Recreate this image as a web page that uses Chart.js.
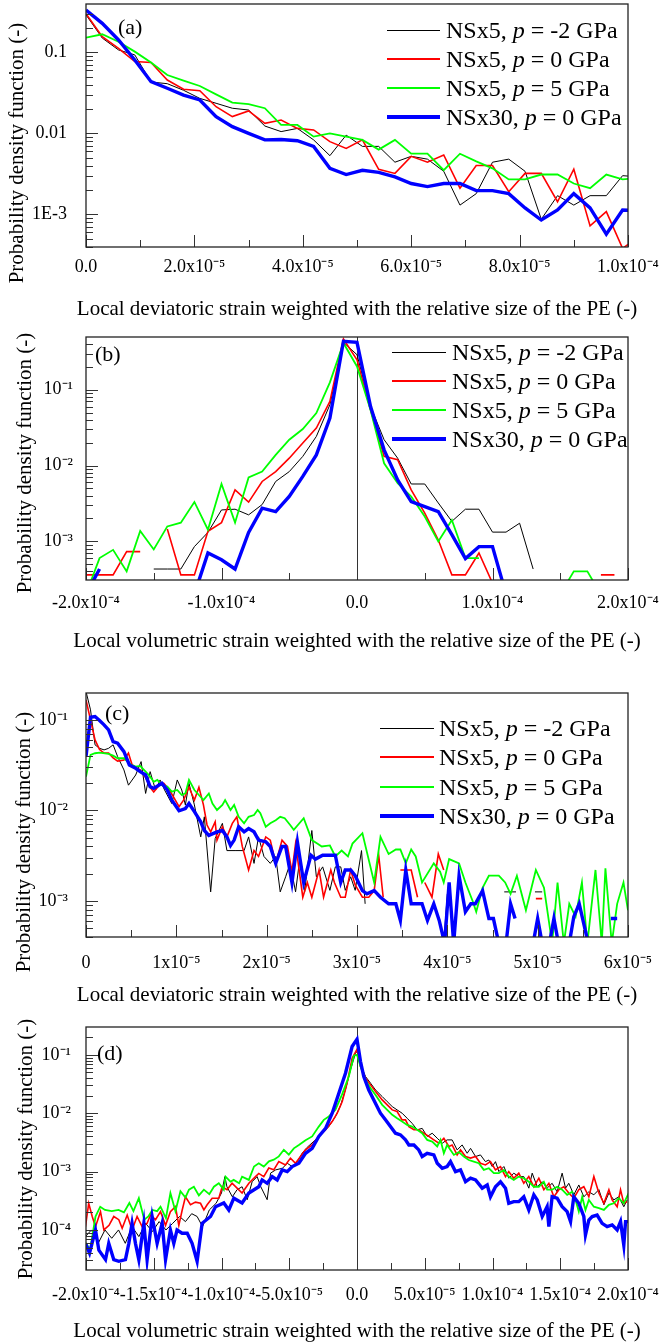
<!DOCTYPE html>
<html>
<head>
<meta charset="utf-8">
<script src="https://cdn.jsdelivr.net/npm/chart.js@4/dist/chart.umd.min.js"></script>
<style>
  body { margin: 0; background: #fff; width: 661px; height: 1344px; position: relative; overflow: hidden;
         font-family: "Liberation Serif", "Times New Roman", serif; color: #000; }
  canvas { position: absolute; left: 0; }
  .ytitle { position: absolute; font-size: 21px; line-height: 1; white-space: nowrap; transform: translate(-50%, -50%) rotate(-90deg); }
  .xtitle { position: absolute; font-size: 21px; line-height: 1; white-space: nowrap; transform: translate(-50%, -50%); }
  .tag { position: absolute; font-size: 22px; line-height: 1; }
  .row { position: absolute; height: 30px; display: flex; align-items: center; font-size: 24px; white-space: nowrap; }
  .swatch { display: inline-block; }
</style>
</head>
<body>
<canvas id="chart-a" width="661" height="330" style="top:0px"></canvas>
<canvas id="chart-b" width="661" height="330" style="top:330px"></canvas>
<canvas id="chart-c" width="661" height="340" style="top:660px"></canvas>
<canvas id="chart-d" width="661" height="344" style="top:1000px"></canvas>

<div class="ytitle" style="left:16px;top:153px">Probability density function (-)</div>
<div class="ytitle" style="left:24px;top:463px">Probability density function (-)</div>
<div class="ytitle" style="left:23px;top:842px">Probability density function (-)</div>
<div class="ytitle" style="left:25px;top:1149px">Probability density function (-)</div>

<div class="xtitle" style="left:357px;top:308px">Local deviatoric strain weighted with the relative size of the PE (-)</div>
<div class="xtitle" style="left:357px;top:640px">Local volumetric strain weighted with the relative size of the PE (-)</div>
<div class="xtitle" style="left:357px;top:994px">Local deviatoric strain weighted with the relative size of the PE (-)</div>
<div class="xtitle" style="left:357px;top:1330px">Local volumetric strain weighted with the relative size of the PE (-)</div>

<div class="tag" style="left:118px;top:16px">(a)</div>
<div class="tag" style="left:95px;top:343px">(b)</div>
<div class="tag" style="left:105px;top:702px">(c)</div>
<div class="tag" style="left:97px;top:1042px">(d)</div>

<div id="legends"></div>

<script>
// ─── Series meta ───
const runs = ['NSx5', 'NSx5', 'NSx5', 'NSx30'];
const pressures = ['-2', '0', '5', '0'];

// ─── Panel (a): deviatoric strain, x in units of 1e-6 ───
const aStrain = [0, 3, 6, 9, 12, 15, 18, 21, 24, 27, 30, 33, 36, 39, 42, 45, 48, 51, 54, 57, 60, 63, 66, 69, 72, 75, 78, 81, 84, 87, 90, 93, 96, 99, 102];
const aBlack = [0.29, 0.15, 0.107, 0.093, 0.043, 0.041, 0.034, 0.027, 0.0235, 0.0204, 0.0194, 0.0123, 0.0105, 0.0115, 0.0083, 0.0053, 0.0095, 0.0069, 0.0069, 0.0044, 0.0052, 0.0048, 0.0034, 0.0013, 0.0018, 0.0044, 0.0048, 0.0034, 0.00087, 0.0017, 0.0013, 0.0017, 0.0017, 0.003, 0.0029];
const aRed = [0.30, 0.156, 0.112, 0.077, 0.075, 0.0455, 0.035, 0.0336, 0.0213, 0.0161, 0.0189, 0.0133, 0.0146, 0.0115, 0.011, 0.0079, 0.0065, 0.0083, 0.0036, 0.0032, 0.0052, 0.0044, 0.0054, 0.0021, 0.004, 0.004, 0.0019, 0.0032, 0.0032, 0.00143, 0.0036, 0.00072, 0.00108, 0.00038, 0.00053];
const aGreen = [0.152, 0.167, 0.135, 0.102, 0.075, 0.0525, 0.0447, 0.0384, 0.0303, 0.0239, 0.023, 0.0204, 0.0127, 0.0127, 0.0091, 0.01, 0.0091, 0.0083, 0.0063, 0.0083, 0.0056, 0.0056, 0.0035, 0.0056, 0.0045, 0.0037, 0.0027, 0.0027, 0.0031, 0.0031, 0.0024, 0.0021, 0.0031, 0.0027, 0.0028];
const aBlue = [0.333, 0.228, 0.142, 0.0804, 0.0434, 0.036, 0.0297, 0.0258, 0.0161, 0.0121, 0.01, 0.0083, 0.0084, 0.0081, 0.0069, 0.0037, 0.0031, 0.0035, 0.0033, 0.0029, 0.0024, 0.0022, 0.0024, 0.0024, 0.00196, 0.00196, 0.0018, 0.0012, 0.00085, 0.00113, 0.0018, 0.0012, 0.00057, 0.00113, 0.00111];
const aXTicks = [0, 20, 40, 60, 80, 100];
const aXLabels = ['0.0', '2.0x10⁻⁵', '4.0x10⁻⁵', '6.0x10⁻⁵', '8.0x10⁻⁵', '1.0x10⁻⁴'];
const aYTicks = [1e-3, 1e-2, 1e-1];
const aYLabels = ['1E-3', '0.01', '0.1'];

// ─── Panel (b): volumetric strain, x in units of 1e-6 ───
const bStrain = [-200, -190, -180, -170, -160, -150, -140, -130, -120, -110, -100, -90, -80, -70, -60, -50, -40, -30, -20, -10, 0, 10, 20, 30, 40, 50, 60, 70, 80, 90, 100, 110, 120, 130, 140, 150, 160, 170, 180, 190, 200];
const bBlack = [null, null, null, null, null, 4.3e-4, 4.3e-4, 4.3e-4, 8.5e-4, 1.31e-3, 2.59e-3, 2.65e-3, 2.23e-3, 3.05e-3, 6.16e-3, 8.3e-3, 0.0132, 0.0242, 0.0634, 0.423, 0.29, 0.06, 0.0219, 0.0125, 5.7e-3, 5.7e-3, 3.2e-3, 1.83e-3, 2.65e-3, 2.65e-3, 1.32e-3, 1.32e-3, 1.73e-3, 4.3e-4, null, null, null, null, null, null, null];
const bRed = [3.6e-4, 3.6e-4, 3.6e-4, 7.3e-4, 7.3e-4, null, 1.45e-3, 3.6e-4, 3.6e-4, 1.35e-3, 1.76e-3, 4.76e-3, 3.29e-3, 6.16e-3, 8.3e-3, 0.0125, 0.0198, 0.0312, 0.07, 0.468, 0.249, 0.0544, 0.0132, 0.0119, 4.76e-3, 2.35e-3, 1.04e-3, 3.6e-4, 3.6e-4, 7e-4, 2.8e-4, null, null, null, null, null, null, null, 3.6e-4, 3.6e-4, null];
const bGreen = [2e-4, 6e-4, 7.7e-4, 4e-4, 1.37e-3, 7.8e-4, 1.57e-3, 1.76e-3, 3.3e-3, 1.42e-3, 5.7e-3, 1.76e-3, 6.97e-3, 8.3e-3, 0.0138, 0.0219, 0.0303, 0.0492, 0.125, 0.414, 0.203, 0.054, 0.0107, 5.85e-3, 3.9e-3, 2.12e-3, 9.9e-4, 1.91e-3, 6e-4, 6e-4, null, null, null, null, null, 2e-4, 4e-4, 4e-4, 2e-4, null, null];
const bBlue = [2e-4, 4.3e-4, null, null, null, null, null, null, 2e-4, 7e-4, 5.7e-4, 4.3e-4, 1.31e-3, 2.73e-3, 2.46e-3, 3.9e-3, 7.18e-3, 0.0138, 0.0422, 0.436, 0.423, 0.06, 0.0161, 6.45e-3, 3.34e-3, 2.87e-3, 2.46e-3, 1.22e-3, 5.9e-4, 8.5e-4, 8.5e-4, 2e-4, null, null, null, null, null, null, null, null, null];
const bXTicks = [-200, -100, 0, 100, 200];
const bXLabels = ['-2.0x10⁻⁴', '-1.0x10⁻⁴', '0.0', '1.0x10⁻⁴', '2.0x10⁻⁴'];
const bYTicks = [1e-3, 1e-2, 1e-1];
const bYLabels = ['10⁻³', '10⁻²', '10⁻¹'];

// ─── Panel (c): deviatoric strain, [x (1e-6), pdf] ───
const cBlack = [[0, 0.206], [0.5, 0.129], [1, 0.053], [1.5, 0.0485], [2, 0.0466], [2.5, 0.0485], [3, 0.053], [3.5, 0.0393], [4.2, 0.028], [4.7, 0.019], [5.5, 0.0246], [6.1, 0.0346], [6.6, 0.0154], [7.1, 0.0268], [7.7, 0.0168], [8.2, 0.0217], [8.7, 0.0168], [9.5, 0.0119], [10.1, 0.0217], [10.6, 0.0168], [11, 0.0115], [11.4, 0.0199], [12, 0.0115], [12.7, 0.0051], [13.1, 0.0085], [13.8, 0.00126], [14.3, 0.0049], [15.1, 0.0072], [15.6, 0.0036], [16.5, 0.0036], [17.5, 0.0036], [18, 0.0051], [18.6, 0.0026], [19.1, 0.0051], [19.7, 0.0031], [20.4, 0.0026], [21, 0.0031], [21.5, 0.00126], [22.1, 0.00185], [22.6, 0.0026], [23.2, 0.00126], [23.7, 0.0031], [24.2, 0.00126], [25, 0.006], [25.5, 0.00185], [26.2, 0.00238], [27, 0.00131], [27.6, 0.00238], [28.2, 0.00238], [28.7, 0.00131], [29.3, 0.00185], [29.8, 0.00131], [30.5, 0.0036], [30.9, 0.00093], [31.3, null], [39.6, 0.00034], [40, 0.0012], [40.3, null], [46.3, 0.00126], [47.6, 0.00126], [48, null], [49.7, 0.00126], [50.5, 0.00126]];
const cRed = [[0, 0.166], [0.5, 0.1], [1, 0.06], [1.5, 0.047], [2, 0.043], [2.5, 0.043], [3, 0.038], [3.5, 0.035], [4.2, 0.036], [4.7, 0.043], [5.1, 0.032], [5.7, 0.029], [6, 0.028], [6.6, 0.023], [7.1, 0.018], [7.5, 0.016], [8.1, 0.019], [8.6, 0.02], [9.2, 0.017], [9.7, 0.014], [10.3, 0.011], [10.8, 0.013], [11.4, 0.018], [12, 0.013], [12.5, 0.018], [13, 0.0115], [13.4, 0.0069], [13.8, 0.0058], [14.3, 0.0075], [14.5, 0.0047], [15.1, 0.0066], [15.6, 0.0051], [16.2, 0.0072], [16.7, 0.0085], [17.3, 0.004], [18, 0.0022], [18.6, 0.0036], [19.1, 0.0031], [19.9, 0.0051], [20.4, 0.0047], [21, 0.0026], [21.7, 0.0047], [22.3, 0.004], [22.8, 0.0021], [23.2, 0.0043], [24, 0.0011], [24.5, 0.0016], [25, 0.0011], [25.8, 0.0022], [26.3, 0.0011], [27.1, 0.0022], [27.5, 0.0016], [28.2, 0.0011], [28.7, 0.0011], [29.3, 0.0022], [29.8, 0.0015], [30.6, 0.0011], [31.3, 0.0011], [31.9, 0.0013], [32.4, 0.0032], [32.9, 0.0011], [33.5, null], [34.8, 0.0022], [36, 0.0022], [36.7, 0.0011], [37, null], [37.5, 0.0016], [38.3, 0.0011], [39, 0.0033], [39.6, 0.0022], [40, null], [49.8, 0.00106], [50.5, 0.00106]];
const cGreen = [[0, 0.0236], [0.5, 0.041], [1, 0.0428], [1.5, 0.0435], [2.5, 0.0421], [3, 0.0403], [3.5, 0.0377], [4.2, 0.0377], [5, 0.0318], [5.5, 0.0304], [6, 0.031], [6.6, 0.0268], [7.1, 0.0236], [7.5, 0.0207], [7.9, 0.0217], [8.4, 0.019], [9, 0.0183], [9.5, 0.0161], [10.1, 0.0168], [10.6, 0.0148], [11, 0.0154], [11.4, 0.0217], [12, 0.0168], [12.5, 0.0148], [13, 0.013], [13.6, 0.0154], [14, 0.0119], [14.5, 0.0101], [15.1, 0.0115], [15.4, 0.013], [16, 0.0101], [16.4, 0.0115], [16.9, 0.0085], [17.5, 0.0072], [18, 0.0085], [18.6, 0.0089], [19, 0.0101], [19.3, 0.0093], [19.9, 0.0066], [20.4, 0.0072], [21, 0.0078], [21.5, 0.0085], [22, 0.0082], [22.6, 0.0069], [23, 0.0061], [24.1, 0.0082], [25, 0.0047], [25.6, 0.0043], [26.1, 0.004], [27, 0.0041], [27.6, 0.0031], [28.3, 0.0036], [29, 0.0031], [29.5, 0.0043], [30.6, 0.0056], [31.9, 0.0016], [32.6, 0.0051], [33.5, 0.0033], [34.3, 0.0037], [34.8, 0.0037], [35.4, 0.0026], [36, 0.0037], [36.5, 0.0031], [37.2, 0.0016], [38.5, 0.0026], [39.2, 0.0021], [39.6, 0.0016], [40.2, 0.0029], [41.3, 0.0026], [42, 0.0016], [42.8, 0.001], [43.2, 0.00076], [43.9, 0.0014], [44.6, 0.0019], [45.7, 0.0019], [46.4, 0.0016], [47, 0.0012], [47.7, 0.0019], [48.7, 0.00079], [49.8, 0.0022], [50.7, 0.0014], [51.6, 0.00034], [52.2, 0.0016], [52.9, 0.00034], [53.5, 0.00093], [54.2, 0.00067], [54.9, 0.0016], [55.5, 0.00034], [56.4, 0.0022], [57.1, 0.00034], [57.5, 0.0023], [58.2, 0.00034], [58.8, 0.00093], [59.5, 0.0016], [60, 0.00079]];
const cBlue = [[0, 0.0393], [0.5, 0.107], [1, 0.109], [1.5, 0.0984], [2, 0.0881], [2.5, 0.0775], [3, 0.0575], [3.5, 0.0552], [4.2, 0.0446], [4.8, 0.0318], [5.5, 0.0292], [6, 0.0268], [6.6, 0.0246], [7.1, 0.0183], [7.5, 0.0175], [8.4, 0.0199], [9, 0.0168], [9.5, 0.013], [10.3, 0.0099], [11, 0.0105], [11.4, 0.0119], [12, 0.0097], [12.7, 0.0075], [13.1, 0.006], [13.6, 0.0053], [14.5, 0.0058], [15.1, 0.006], [15.6, 0.0051], [16, 0.0041], [16.4, 0.0047], [16.9, 0.0066], [17.5, 0.0058], [18, 0.0063], [18.6, 0.0058], [19.1, 0.0047], [19.9, 0.0045], [20.4, 0.004], [21, 0.0026], [21.7, 0.004], [22.1, 0.004], [22.8, 0.0016], [23.4, 0.0045], [24.1, 0.0016], [24.9, 0.0032], [25.4, 0.0029], [26.2, 0.0032], [27.1, 0.0032], [27.6, 0.0032], [28.2, 0.0016], [28.7, 0.0022], [29.3, 0.0022], [29.8, 0.0019], [30.6, 0.0013], [31.1, 0.0012], [31.9, 0.0013], [32.6, 0.0011], [33.5, 0.00093], [34.3, 0.00093], [34.8, 0.00061], [35.4, 0.0022], [36, 0.00093], [36.5, 0.00093], [37.2, 0.00093], [37.8, 0.00061], [38.5, 0.00093], [39.1, 0.00061], [39.7, 0.00034], [40.2, 0.0016], [40.7, 0.00034], [41.3, 0.0019], [42, 0.00076], [42.6, 0.00093], [43.1, 0.00093], [43.9, 0.0013], [44.6, 0.00064], [45.1, 0.00064], [45.7, 0.00034], [46.1, null], [46.5, 0.00034], [47, 0.00093], [47.5, 0.00064], [48, null], [49.5, 0.00034], [50, 0.00064], [50.5, 0.00034], [51, null], [51.3, 0.00034], [51.8, 0.00064], [52.3, 0.00034], [53, null], [53.5, 0.00034], [54, 0.00067], [54.6, 0.00093], [55.6, 0.00034], [56, null], [58.1, 0.00064], [58.8, 0.00064]];
const cXTicks = [0, 10, 20, 30, 40, 50, 60];
const cXLabels = ['0', '1x10⁻⁵', '2x10⁻⁵', '3x10⁻⁵', '4x10⁻⁵', '5x10⁻⁵', '6x10⁻⁵'];
const cYTicks = [1e-3, 1e-2, 1e-1];
const cYLabels = ['10⁻³', '10⁻²', '10⁻¹'];

// ─── Panel (d): volumetric strain, [x (1e-6), pdf] ───
const dBlack = [[-200.4, 7.7e-5], [-196, 1e-4], [-191, 5.9e-5], [-186, 1e-4], [-181, 7.2e-5], [-176, 1e-4], [-171, 5.9e-5], [-166, 1.14e-4], [-161, 7.7e-5], [-156, 1.3e-4], [-151, 9.4e-5], [-146, 1.39e-4], [-141, 1e-4], [-136, 1.3e-4], [-131, 1.7e-4], [-126.6, 1.39e-4], [-122, 1.9e-4], [-118, 1.7e-4], [-114, 1.14e-4], [-109, 2.2e-4], [-104, 2.86e-4], [-100, 4.3e-4], [-97.5, 8.2e-4], [-96, 5.5e-4], [-92, 3.7e-4], [-88.5, 4.9e-4], [-84.8, 5.5e-4], [-81, 3.3e-4], [-77.4, 6.7e-4], [-73.7, 8.2e-4], [-71, 5.5e-4], [-66.3, 3.3e-4], [-63.8, 9.4e-4], [-60, 1.07e-3], [-55, 1.14e-3], [-51.5, 1.39e-3], [-47.8, 1.22e-3], [-44, 1.48e-3], [-40.5, 2.06e-3], [-36.8, 2.6e-3], [-30.6, 3.5e-3], [-25.7, 4.5e-3], [-20.8, 5.9e-3], [-15.9, 8.8e-3], [-12.2, 0.0134], [-8.5, 0.0254], [-4.8, 0.0553], [-1.1, 0.107], [0, 0.114], [2.6, 0.068], [6.3, 0.0425], [10, 0.0327], [13.7, 0.025], [18.6, 0.0193], [22.3, 0.0158], [26, 0.013], [29.6, 0.0114], [33.3, 0.01], [37, 8.2e-3], [40.7, 6.7e-3], [44.4, 5.2e-3], [48.1, 5.5e-3], [51.8, 4e-3], [55.5, 4.54e-3], [59.2, 3.73e-3], [62.9, 3.06e-3], [66.5, 3.49e-3], [70.2, 3.49e-3], [73.9, 2.35e-3], [77.6, 2.86e-3], [81.3, 2.06e-3], [83.8, 2.5e-3], [87.5, 1.81e-3], [91.1, 1.93e-3], [94.8, 1.48e-3], [97.3, 1.58e-3], [99.8, 1.22e-3], [102.2, 1.48e-3], [104.7, 1e-3], [108.4, 1.22e-3], [112, 7.7e-4], [115.7, 9.4e-4], [119.4, 8.2e-4], [123.1, 8.2e-4], [126.8, 5.2e-4], [129.3, 9.4e-4], [133, 5.5e-4], [136.7, 6.7e-4], [140.3, 5.2e-4], [144, 6.3e-4], [147.7, 4.5e-4], [151.4, 9.4e-4], [153.9, 5.2e-4], [156.3, 6.3e-4], [160, 4e-4], [163.7, 5.9e-4], [167.4, 3.7e-4], [171.1, 4.5e-4], [174.8, 4e-4], [178.5, 4.9e-4], [182.2, 2.7e-4], [185.9, 4.3e-4], [189.5, 3.27e-4], [193.2, 3.7e-4], [196.9, 2.5e-4], [199.4, 3.27e-4]];
const dRed = [[-200.4, 1.14e-4], [-198, 2.86e-4], [-195.4, 1.7e-4], [-193, 1.14e-4], [-189.3, 2.06e-4], [-186.8, 1e-4], [-183, 1.2e-4], [-179.5, 1.7e-4], [-175.8, 1.5e-4], [-173.3, 1.07e-4], [-169.6, 1.8e-4], [-166, 1e-4], [-162.3, 1.7e-4], [-158.6, 1.14e-4], [-154.9, 1.3e-4], [-152.4, 1.8e-4], [-148.7, 1.5e-4], [-145, 2.06e-4], [-141.3, 1.2e-4], [-137.7, 2.06e-4], [-134, 2.5e-4], [-131.5, 1.2e-4], [-129, 2.2e-4], [-126.6, 3.7e-4], [-122.9, 2.7e-4], [-119.2, 3e-4], [-115.5, 2.86e-4], [-113, 2.2e-4], [-110.6, 2.7e-4], [-106.9, 3.5e-4], [-102, 3.5e-4], [-99.5, 5.5e-4], [-95.9, 4.9e-4], [-92.2, 6.3e-4], [-88.5, 5.2e-4], [-84.8, 4.3e-4], [-79.8, 6.3e-4], [-74.9, 8.2e-4], [-72.5, 9.3e-4], [-68.8, 8.2e-4], [-65.1, 1.15e-3], [-61.4, 1.07e-3], [-57.7, 1.48e-3], [-52.8, 1.3e-3], [-49.1, 1.7e-3], [-45.4, 1.39e-3], [-41.7, 1.81e-3], [-38, 2.35e-3], [-33.1, 2.86e-3], [-28.2, 4e-3], [-23.2, 5.2e-3], [-18.3, 7.2e-3], [-14.6, 0.01], [-10.9, 0.0159], [-7.3, 0.0327], [-3.6, 0.0877], [0, 0.125], [2.6, 0.063], [6.3, 0.0398], [10, 0.0306], [13.7, 0.0235], [18.6, 0.0169], [22.3, 0.0139], [26, 0.0114], [29.6, 0.0107], [33.3, 7.7e-3], [35.8, 7.7e-3], [38.3, 5.9e-3], [42, 5.2e-3], [45.6, 5.2e-3], [49.3, 4.54e-3], [53, 4e-3], [56.7, 3.49e-3], [60.4, 3.06e-3], [64.1, 3.73e-3], [67.8, 2.69e-3], [70.2, 2.86e-3], [73.9, 1.93e-3], [76.4, 2.35e-3], [80.1, 1.81e-3], [83.8, 1.7e-3], [87.5, 1.81e-3], [91.1, 1.39e-3], [94.8, 1.3e-3], [98.5, 1.48e-3], [102.2, 1.07e-3], [105.9, 1.22e-3], [109.6, 8.2e-4], [112, 1e-3], [115.7, 7.7e-4], [119.4, 9.4e-4], [123.1, 6.3e-4], [126.8, 8.2e-4], [130.5, 5.5e-4], [134.2, 7.7e-4], [137.9, 4.9e-4], [141.6, 6.3e-4], [145.3, 3.7e-4], [149, 4.9e-4], [152.6, 5.5e-4], [156.3, 4.3e-4], [160, 3.5e-4], [163.7, 4.9e-4], [167.4, 5.5e-4], [171.1, 3.7e-4], [174.8, 8.2e-4], [178.5, 4.3e-4], [182.2, 2.86e-4], [185.9, 4.9e-4], [188.3, 3.27e-4], [192, 2.5e-4], [194.5, 4.9e-4], [196.9, 2.86e-4], [199.4, 3.06e-4]];
const dGreen = [[-200, 6e-5], [-197, 4.5e-5], [-193, 1.7e-4], [-189.5, 2.5e-4], [-186, 2.2e-4], [-181, 2.1e-4], [-176, 2.2e-4], [-172, 2e-4], [-168, 2.9e-4], [-165, 2.1e-4], [-161, 3.5e-4], [-157, 1.5e-4], [-154, 1.7e-4], [-151, 2.2e-4], [-147.5, 2.1e-4], [-145, 2.5e-4], [-141, 1.6e-4], [-137.7, 4.3e-4], [-134, 2.1e-4], [-130.3, 4.6e-4], [-126.6, 3.6e-4], [-124, 4.9e-4], [-120.4, 5.5e-4], [-116.7, 3.9e-4], [-113, 4.9e-4], [-109, 4.1e-4], [-105.6, 5.5e-4], [-102, 6.3e-4], [-98.3, 4.9e-4], [-97, 8.2e-4], [-93.4, 6.7e-4], [-91, 7.2e-4], [-87, 6.3e-4], [-84.8, 8.2e-4], [-79.8, 7.2e-4], [-76, 1.22e-3], [-72.5, 1.39e-3], [-68.8, 1.22e-3], [-65, 1.5e-3], [-61.4, 1.6e-3], [-57.7, 1.82e-3], [-54, 2.36e-3], [-50.3, 1.95e-3], [-46.6, 2.5e-3], [-42.9, 2.85e-3], [-38, 3.45e-3], [-33.1, 4e-3], [-28.2, 5.9e-3], [-24.5, 7.7e-3], [-20.8, 8.8e-3], [-15.9, 0.0115], [-11, 0.021], [-6, 0.043], [-2.3, 0.0965], [0, 0.1], [2.6, 0.063], [6.3, 0.0373], [10, 0.0268], [13.7, 0.0206], [18.6, 0.0139], [22.3, 0.0114], [26, 9.4e-3], [29.6, 8.2e-3], [33.3, 7.2e-3], [37, 6.3e-3], [40.7, 5.9e-3], [44.4, 5.2e-3], [48.1, 4.54e-3], [51.8, 3.49e-3], [55.5, 3.27e-3], [59.2, 2.69e-3], [61.6, 3.49e-3], [64.1, 2.06e-3], [66.5, 2.86e-3], [69, 2.35e-3], [71.5, 1.93e-3], [75.2, 2.16e-3], [78.8, 1.81e-3], [82.5, 1.58e-3], [86.2, 1.48e-3], [89.9, 1.39e-3], [93.6, 1.07e-3], [97.3, 1.14e-3], [101, 9.4e-4], [104.7, 9.4e-4], [108.4, 1.07e-3], [112, 8.2e-4], [115.7, 7.2e-4], [119.4, 8.2e-4], [123.1, 7.7e-4], [126.8, 6.7e-4], [130.5, 5.5e-4], [134.2, 5.5e-4], [137.9, 6.7e-4], [140.3, 4.9e-4], [144, 4.9e-4], [147.7, 5.5e-4], [151.4, 4.9e-4], [155.1, 4e-4], [158.8, 4.5e-4], [161.3, 3.27e-4], [163.7, 2.06e-4], [166.2, 3.7e-4], [168.6, 2.2e-4], [171.1, 3.27e-4], [174.8, 2.5e-4], [178.5, 2.36e-4], [182.2, 2.2e-4], [185.9, 2.7e-4], [189.5, 2.86e-4], [193.2, 3.5e-4], [196.9, 2.86e-4], [200.6, 4.3e-4]];
const dBlue = [[-200.4, 5.9e-5], [-197.4, 4e-5], [-193, 1e-4], [-190.5, 4.5e-5], [-185.6, 3.1e-5], [-183.2, 5.9e-5], [-179.5, 3.1e-5], [-175.8, 2.9e-5], [-170.9, 3.1e-5], [-168.4, 5.9e-5], [-166, 1.3e-4], [-163.5, 5.9e-5], [-161, 3.1e-5], [-157.3, 1.3e-4], [-154.9, 3.1e-5], [-151.2, 1.7e-4], [-147.5, 5.9e-5], [-143.8, 1.3e-4], [-141.3, 3.1e-5], [-137.7, 1e-4], [-135.2, 5.9e-5], [-132.8, 1e-4], [-129.1, 8.8e-5], [-125.3, 8.8e-5], [-121.7, 5.9e-5], [-118, 2.9e-5], [-114.3, 1.3e-4], [-108.1, 1.7e-4], [-104.4, 2.5e-4], [-98.3, 2.9e-4], [-94.6, 2.2e-4], [-90.9, 3.5e-4], [-84.8, 2.9e-4], [-79.8, 4.3e-4], [-72.5, 5.5e-4], [-70, 7.2e-4], [-66.3, 6.3e-4], [-62.6, 8.2e-4], [-58.9, 7.2e-4], [-55.2, 1.07e-3], [-51.5, 1e-3], [-47.8, 1.22e-3], [-42.9, 1.39e-3], [-38, 2.06e-3], [-33.1, 2.5e-3], [-28.2, 4e-3], [-23.2, 5.5e-3], [-18.3, 0.01], [-13.4, 0.022], [-8.5, 0.0485], [-3.6, 0.139], [0, 0.185], [2.6, 0.0769], [5, 0.0425], [8.7, 0.025], [12.4, 0.0169], [17.3, 0.01], [21, 7.7e-3], [24.7, 5.9e-3], [28.4, 4.54e-3], [32.1, 4.25e-3], [35.8, 3.49e-3], [38.3, 2.86e-3], [42, 2.86e-3], [45.6, 2.35e-3], [48.1, 1.81e-3], [51.8, 2.06e-3], [56.7, 1.93e-3], [59.2, 1.39e-3], [62.9, 1.14e-3], [66.5, 1.22e-3], [69, 1.48e-3], [72.7, 1e-3], [76.4, 1.07e-3], [80.1, 6.7e-4], [83.8, 7.7e-4], [87.5, 7.2e-4], [92.4, 5.2e-4], [96.1, 5.9e-4], [98.5, 3.7e-4], [102.2, 5.5e-4], [105.9, 6.7e-4], [109.6, 5.2e-4], [112, 2.86e-4], [115.7, 3.06e-4], [119.4, 3.06e-4], [123.1, 3.7e-4], [126.8, 2.2e-4], [130.5, 4e-4], [133, 3.27e-4], [136.7, 1.7e-4], [140.3, 2.5e-4], [141.6, 1.14e-4], [144, 3.7e-4], [147.7, 3.5e-4], [151.4, 2.5e-4], [155.1, 2.06e-4], [157.6, 1.39e-4], [160, 3.7e-4], [163.7, 2.86e-4], [167.4, 1.7e-4], [168.6, 8.2e-5], [171.1, 1.48e-4], [173.6, 1.7e-4], [177.2, 1.8e-4], [180.9, 1.3e-4], [184.6, 1.14e-4], [188.3, 1.22e-4], [192, 1e-4], [194.5, 1.39e-4], [196.9, 5.5e-5], [198.2, 1.39e-4], [200.6, 1.39e-4]];
const dXTicks = [-200, -150, -100, -50, 0, 50, 100, 150, 200];
const dXLabels = ['-2.0x10⁻⁴', '-1.5x10⁻⁴', '-1.0x10⁻⁴', '-5.0x10⁻⁵', '0.0', '5.0x10⁻⁵', '1.0x10⁻⁴', '1.5x10⁻⁴', '2.0x10⁻⁴'];
const dYTicks = [1e-4, 1e-3, 1e-2, 1e-1];
const dYLabels = ['10⁻⁴', '10⁻³', '10⁻²', '10⁻¹'];

// ─── Styling ───
const FONT = '"Liberation Serif", "Times New Roman", serif';
const LINE_COLORS = ['#000000', '#ff0000', '#00ff00', '#0000ff'];
const LINE_WIDTHS = [1, 1.6, 1.8, 3.4];
const DRAW_ORDER = [3, 2, 1, 0];   // blue on top, as in the figure

const zip = (xs, ys) => xs.map((x, i) => ({ x, y: ys[i] }));
const pairs = arr => arr.map(([x, y]) => ({ x, y }));

// Frame, inward tick marks and the zero reference line
const framePlugin = {
  id: 'frame',
  beforeDatasetsDraw(chart, args, o) {
    if (!o.zeroLine) return;
    const { ctx, chartArea: a, scales: { x } } = chart;
    const px = Math.round(x.getPixelForValue(0)) + 0.5;
    ctx.save();
    ctx.strokeStyle = '#333';
    ctx.lineWidth = 1;
    ctx.beginPath(); ctx.moveTo(px, a.top); ctx.lineTo(px, a.bottom); ctx.stroke();
    ctx.restore();
  },
  afterDatasetsDraw(chart, args, o) {
    const { ctx, chartArea: a, scales: { x, y } } = chart;
    ctx.save();
    ctx.strokeStyle = '#333';
    ctx.lineWidth = 1;
    ctx.beginPath();
    const n = Math.round((x.max - x.min) / o.xMinor);
    const every = Math.round(o.xStep / o.xMinor);
    for (let i = 0; i <= n; i++) {
      const px = Math.round(x.getPixelForValue(x.min + i * o.xMinor)) + 0.5;
      ctx.moveTo(px, a.bottom);
      ctx.lineTo(px, a.bottom - (i % every === 0 ? 12 : 7));
    }
    for (let e = Math.floor(Math.log10(y.min)); e <= Math.ceil(Math.log10(y.max)); e++) {
      for (let m = 1; m <= 9; m++) {
        const v = m * Math.pow(10, e);
        if (v < y.min || v > y.max) continue;
        const py = Math.round(y.getPixelForValue(v)) + 0.5;
        ctx.moveTo(a.left, py);
        ctx.lineTo(a.left + (m === 1 ? 12 : 7), py);
      }
    }
    ctx.stroke();
    ctx.strokeStyle = '#222';
    ctx.lineWidth = 1.3;
    ctx.strokeRect(a.left, a.top, a.right - a.left, a.bottom - a.top);
    ctx.restore();
  },
};

function makeChart(id, p) {
  return new Chart(document.getElementById(id), {
    type: 'line',
    data: {
      datasets: p.series.map((data, i) => ({
        data,
        borderColor: LINE_COLORS[i],
        borderWidth: LINE_WIDTHS[i],
        pointRadius: 0,
        tension: 0,
        fill: false,
        spanGaps: false,
        clip: 0,
        order: DRAW_ORDER[i],
      })),
    },
    options: {
      responsive: false,
      animation: false,
      devicePixelRatio: 1,
      layout: { padding: { top: p.top, right: 33, left: 0, bottom: 0 } },
      plugins: {
        legend: { display: false },
        tooltip: { enabled: false },
        frame: { xStep: p.xStep, xMinor: p.xMinor, zeroLine: p.zeroLine },
      },
      scales: {
        x: {
          type: 'linear',
          bounds: 'data',
          min: p.xTicks[0],
          max: p.xTicks[p.xTicks.length - 1],
          afterBuildTicks: s => { s.ticks = p.xTicks.map(v => ({ value: v })); },
          afterFit: s => { s.height = p.xHeight; s.paddingLeft = 0; s.paddingRight = 0; },
          ticks: {
            callback: (v, i) => p.xLabels[i],
            autoSkip: false, maxRotation: 0, minRotation: 0,
            padding: p.xPad, color: '#000',
            font: { family: FONT, size: 18 },
          },
          grid: { display: false, drawTicks: false },
          border: { display: false },
        },
        y: {
          type: 'logarithmic',
          bounds: 'data',
          min: p.yMin,
          max: p.yMax,
          afterBuildTicks: s => { s.ticks = p.yTicks.map(v => ({ value: v })); },
          afterFit: s => { s.width = 86; s.paddingTop = 0; s.paddingBottom = 0; },
          ticks: {
            callback: (v, i) => p.yLabels[i],
            autoSkip: false,
            padding: p.yPad, color: '#000',
            font: { family: FONT, size: 18 },
          },
          grid: { display: false, drawTicks: false },
          border: { display: false },
        },
      },
    },
    plugins: [framePlugin],
  });
}

makeChart('chart-a', {
  series: [zip(aStrain, aBlack), zip(aStrain, aRed), zip(aStrain, aGreen), zip(aStrain, aBlue)],
  xTicks: aXTicks, xLabels: aXLabels, xStep: 20, xMinor: 10,
  yTicks: aYTicks, yLabels: aYLabels, yMin: 3.95e-4, yMax: 0.395,
  top: 4, xHeight: 83, xPad: 9, yPad: 19, zeroLine: false,
});

makeChart('chart-b', {
  series: [zip(bStrain, bBlack), zip(bStrain, bRed), zip(bStrain, bGreen), zip(bStrain, bBlue)],
  xTicks: bXTicks, xLabels: bXLabels, xStep: 100, xMinor: 50,
  yTicks: bYTicks, yLabels: bYLabels, yMin: 3.08e-4, yMax: 0.497,
  top: 7, xHeight: 80, xPad: 12, yPad: 13, zeroLine: true,
});

makeChart('chart-c', {
  series: [pairs(cBlack), pairs(cRed), pairs(cGreen), pairs(cBlue)],
  xTicks: cXTicks, xLabels: cXLabels, xStep: 10, xMinor: 5,
  yTicks: cYTicks, yLabels: cYLabels, yMin: 4e-4, yMax: 0.198,
  top: 33, xHeight: 63, xPad: 15, yPad: 18, zeroLine: false,
});

makeChart('chart-d', {
  series: [pairs(dBlack), pairs(dRed), pairs(dGreen), pairs(dBlue)],
  xTicks: dXTicks, xLabels: dXLabels, xStep: 50, xMinor: 25,
  yTicks: dYTicks, yLabels: dYLabels, yMin: 2.06e-5, yMax: 0.30,
  top: 27, xHeight: 74, xPad: 14, yPad: 15, zeroLine: true,
});

// ─── Legends (panels a–c) ───
function buildLegend(centers, lineLeft, lineRight, textLeft) {
  const host = document.getElementById('legends');
  runs.forEach((run, i) => {
    const row = document.createElement('div');
    row.className = 'row';
    row.style.left = lineLeft + 'px';
    row.style.top = (centers[i] - 15) + 'px';
    row.innerHTML =
      `<span class="swatch" style="width:${lineRight - lineLeft}px;height:${LINE_WIDTHS[i]}px;` +
      `background:${LINE_COLORS[i]};margin-right:${textLeft - lineRight}px"></span>` +
      `<span>${run}, <i>p</i> = ${pressures[i]} GPa</span>`;
    host.appendChild(row);
  });
}

buildLegend([30, 59, 88, 117], 387, 440, 446);
buildLegend([352, 381, 410, 439], 392, 446, 452);
buildLegend([728, 757, 787, 816], 380, 434, 439);
</script>
</body>
</html>
